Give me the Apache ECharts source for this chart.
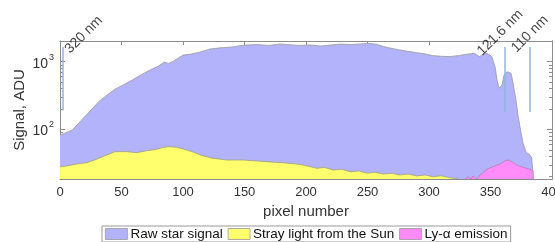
<!DOCTYPE html>
<html>
<head>
<meta charset="utf-8">
<script src="https://cdn.jsdelivr.net/npm/echarts@6/dist/echarts.min.js"></script>
<style>
  html, body { margin: 0; padding: 0; background: #fff; }
  #chart { width: 555px; height: 242px; }
</style>
</head>
<body>
<div id="chart"></div>
<script>
var dom = document.getElementById("chart");
var myChart = echarts.init(dom);

// raw star signal (pixel, ADU)
const rawPixel = [0, 4, 10, 16, 23, 28, 33, 40, 45, 52, 59, 66, 73, 80, 85, 88, 92, 100, 107, 114, 122, 130, 140, 150, 160, 170, 179, 186, 195, 203, 212, 220, 228, 236, 245, 252, 258, 263, 270, 276, 283, 290, 297, 303, 310, 317, 324, 331, 337, 341, 343, 347, 351, 353.7, 355.3, 357, 359.3, 361, 363.4, 366.7, 368.3, 370.7, 372.4, 374, 376.4, 379, 382, 383.5, 384.3, 384.6]
const rawSignal = [83, 88, 98, 128, 175, 220, 272, 340, 395, 460, 540, 640, 750, 860, 990, 940, 1010, 1250, 1300, 1390, 1540, 1600, 1650, 1760, 1790, 1740, 1820, 1780, 1740, 1770, 1700, 1760, 1820, 1790, 1830, 1860, 1800, 1670, 1570, 1490, 1420, 1360, 1300, 1230, 1200, 1190, 1230, 1290, 1330, 1190, 1256, 1330, 1190, 844, 537, 405, 453, 634, 711, 674, 484, 272, 160, 108, 63, 46, 42, 38, 25, 18.5]

// stray light from the Sun
const strayPixel = [0, 1.4, 5.4, 13.6, 21.7, 29.8, 38, 44.7, 54.2, 62.4, 70.5, 78.6, 84, 89.4, 94.9, 103, 111, 114, 124, 136, 149, 160, 168, 181, 195, 209, 215, 222, 229, 236, 243, 250, 256, 263, 270, 276, 283, 290, 297, 303, 310, 317, 323.6]
const straySignal = [28, 28, 28.8, 30.8, 32.2, 36.2, 41.9, 46.9, 46.9, 45.3, 48.5, 50.8, 54.4, 55.5, 54.4, 49.7, 44.4, 41.9, 37.4, 35.3, 35.3, 34.2, 33.3, 32.2, 30.5, 26.6, 27.5, 25.1, 25.8, 23.7, 24.3, 22.5, 23.3, 21.9, 22.5, 21.2, 21.9, 20.5, 21.2, 20.0, 20.6, 19.3, 18.5]

// Ly-alpha emission
const lyPixel = [329.3, 331.7, 334.1, 335.8, 339, 341.5, 344, 347.2, 352, 357.7, 361.8, 364.2, 367.5, 371.5, 376.4, 382.1, 384.6, 384.7]
const lySignal = [18.5, 20, 18.5, 20.5, 18.5, 21.2, 23, 25.8, 28.1, 30.8, 34.5, 35.3, 33.3, 29.8, 27.5, 25.8, 24.5, 18.5]

// wavelength markers
const markerNames = ['320 nm', '121.6 nm', '110 nm']
const markerPixel = [2.4, 361.8, 382]
const markerLow = [190, 180, 180]
const markerHigh = [1650, 1650, 1650]
const markerLabelPixel = [10, 345, 373]
const markerLabelSignal = [1200, 1120, 1250]

const yMin = 18.5
const yMax = 2020
const majorTicks = [100, 1000]
const minorTicks = [20, 30, 40, 50, 60, 70, 80, 90, 200, 300, 400, 500, 600, 700, 800, 900, 2000]

function pairs(xs, ys) {
  return xs.map(function (x, i) { return [x, ys[i]] })
}

var axisGray = '#8c8c8c'
var textCol = '#333'

function yAxisDef(pos, ticks, len, labels) {
  return {
    type: 'log',
    logBase: 10,
    position: pos,
    min: yMin,
    max: yMax,
    axisLine: { show: true, lineStyle: { color: axisGray } },
    axisTick: { show: true, inside: true, length: len, customValues: ticks, lineStyle: { color: axisGray } },
    splitLine: { show: false },
    axisLabel: labels ? {
      show: true,
      customValues: majorTicks,
      margin: 6,
      color: textCol,
      fontFamily: 'Arial',
      formatter: function (v) {
        if (Math.abs(v - 100) < 1) return '{b|10}{s|2}'
        if (Math.abs(v - 1000) < 1) return '{b|10}{s|3}'
        return ''
      },
      rich: {
        b: { fontSize: 14, fontFamily: 'Arial', color: textCol, lineHeight: 18, verticalAlign: 'bottom' },
        s: { fontSize: 9, fontFamily: 'Arial', color: textCol, lineHeight: 18, verticalAlign: 'top', padding: [0, 0, 10, 1] }
      }
    } : { show: false }
  }
}

var markLineData = markerPixel.map(function (x, i) {
  return [{ coord: [x, markerLow[i]] }, { coord: [x, markerHigh[i]] }]
})

option = {
  animation: false,
  backgroundColor: '#fff',
  grid: { left: 60, right: 3, top: 41, bottom: 63, outerBoundsMode: 'none', containLabel: false },
  legend: {
    left: 102,
    top: 226,
    orient: 'horizontal',
    icon: 'rect',
    itemWidth: 22,
    itemHeight: 11,
    itemGap: 5,
    padding: [1, 3, 1, 3],
    borderColor: '#999',
    borderWidth: 1,
    itemStyle: { borderColor: '#999', borderWidth: 0.8 },
    textStyle: { fontFamily: 'Arial', fontSize: 13.5, color: '#111', padding: [0, 0, 0, -2] },
    data: ['Raw star signal', 'Stray light from the Sun', 'Ly-\u03b1 emission']
  },
  xAxis: [
    {
      type: 'value',
      position: 'bottom',
      min: 0,
      max: 400,
      interval: 50,
      name: 'pixel number',
      nameLocation: 'middle',
      nameGap: 22,
      nameTextStyle: { fontFamily: 'Arial', fontSize: 15, color: textCol },
      axisLine: { show: true, lineStyle: { color: axisGray } },
      axisTick: { show: true, inside: true, length: 4, lineStyle: { color: axisGray } },
      splitLine: { show: false },
      axisLabel: { color: textCol, fontFamily: 'Arial', fontSize: 13, margin: 7, hideOverlap: false }
    },
    {
      type: 'value',
      position: 'top',
      min: 0,
      max: 400,
      interval: 50,
      axisLine: { show: true, lineStyle: { color: axisGray } },
      axisTick: { show: true, inside: true, length: 4, lineStyle: { color: axisGray } },
      splitLine: { show: false },
      axisLabel: { show: false }
    }
  ],
  yAxis: [
    Object.assign(yAxisDef('left', majorTicks, 5, true), {
      name: 'Signal, ADU',
      nameLocation: 'middle',
      nameGap: 33,
      nameMoveOverlap: false,
      nameTextStyle: { fontFamily: 'Arial', fontSize: 15, color: textCol }
    }),
    yAxisDef('left', minorTicks, 3, false),
    yAxisDef('right', majorTicks, 5, false),
    yAxisDef('right', minorTicks, 3, false)
  ],
  series: [
    {
      name: 'Raw star signal',
      type: 'line',
      xAxisIndex: 0,
      yAxisIndex: 0,
      data: pairs(rawPixel, rawSignal),
      showSymbol: false,
      symbol: 'none',
      itemStyle: { color: '#b3b3fb' },
      lineStyle: { color: '#9a9a9a', width: 0.8 },
      areaStyle: { color: '#b3b3fb', opacity: 1, origin: 'start' },
      z: 1,
      markLine: {
        silent: true,
        symbol: 'none',
        label: { show: false },
        lineStyle: { color: '#8fb6e0', width: 1.5, type: 'solid' },
        data: markLineData
      }
    },
    {
      name: 'Stray light from the Sun',
      type: 'line',
      data: pairs(strayPixel, straySignal),
      showSymbol: false,
      symbol: 'none',
      itemStyle: { color: '#ffff6e' },
      lineStyle: { color: '#a0a080', width: 0.8 },
      areaStyle: { color: '#ffff6e', opacity: 1, origin: 'start' },
      z: 2
    },
    {
      name: 'Ly-\u03b1 emission',
      type: 'line',
      data: pairs(lyPixel, lySignal),
      showSymbol: false,
      symbol: 'none',
      itemStyle: { color: '#ff8cf8' },
      lineStyle: { color: '#b080b0', width: 0.8 },
      areaStyle: { color: '#ff8cf8', opacity: 1, origin: 'start' },
      z: 3
    },
    {
      name: 'markers',
      type: 'scatter',
      symbolSize: 0,
      silent: true,
      z: 5,
      data: markerNames.map(function (n, i) {
        return { name: n, value: [markerLabelPixel[i], markerLabelSignal[i]] }
      }),
      label: {
        show: true,
        position: [0, 0],
        rotate: 45,
        align: 'left',
        verticalAlign: 'bottom',
        formatter: '{b}',
        fontFamily: 'Arial',
        fontSize: 14,
        color: '#111'
      }
    }
  ]
};
if (option && typeof option === "object") {
  myChart.setOption(option, true);
}
</script>
</body>
</html>
